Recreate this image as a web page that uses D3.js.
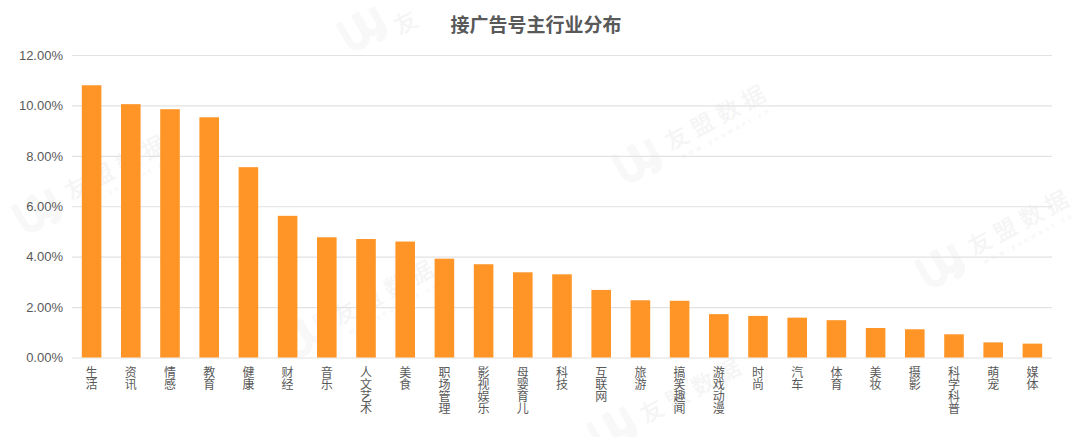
<!DOCTYPE html>
<html><head><meta charset="utf-8">
<script src="https://cdn.jsdelivr.net/npm/d3@7/dist/d3.min.js"></script>
<style>html,body{margin:0;padding:0;background:#fff}svg{display:block}</style>
</head><body><svg id="c" width="1080" height="437"></svg>
<script>
const titleText = "接广告号主行业分布";
const categories = ["生活","资讯","情感","教育","健康","财经","音乐","人文艺术","美食","职场管理","影视娱乐","母婴育儿","科技","互联网","旅游","搞笑趣闻","游戏动漫","时尚","汽车","体育","美妆","摄影","科学科普","萌宠","媒体"];
const values = [10.8,10.05,9.85,9.53,7.55,5.62,4.77,4.7,4.6,3.92,3.7,3.38,3.3,2.68,2.27,2.25,1.72,1.65,1.58,1.48,1.17,1.12,0.92,0.6,0.55];
const yTicks = [0,2,4,6,8,10,12];
const watermarkText = "友盟数据";
const watermarkSub = "www.youwant.cn";
// logo centre and wordmark centre of each faint watermark
const watermarkSpots = [
  {lx:37,ly:210,tx:117,ty:165,t:watermarkText,sub:true},
  {lx:637,ly:160,tx:717,ty:115,t:watermarkText,sub:true},
  {lx:940,ly:265,tx:1020,ty:220,t:watermarkText,sub:true},
  {lx:305,ly:335,tx:385,ty:290,t:watermarkText,sub:true},
  {lx:612,ly:428,tx:692,ty:388,t:watermarkText,sub:false},
  {lx:362,ly:28,tx:405,ty:21,t:"友",sub:false}
];

const FONT = "'Liberation Sans','Noto Sans CJK SC',sans-serif";
const CJK = "'Noto Sans CJK SC',sans-serif";
const svg = d3.select("#c");
const x = d3.scaleBand().domain(categories).range([72,1052]).paddingInner(0.5).paddingOuter(0.25);
const y = d3.scaleLinear().domain([0,12]).range([357.5,55]);

// watermark (under everything)
const wm = svg.append("g");
wm.selectAll("path").data(watermarkSpots).join("path")
  .attr("transform",d=>`translate(${d.lx},${d.ly}) rotate(-30)`)
  .attr("d","M-18,-13 V6 a9,9 0 0 0 18,0 V-13 M2,-13 V2 a8,8 0 0 0 16,0 V-13 V10 a8,8 0 0 1 -8,8")
  .attr("fill","none").attr("stroke","#f8f8f8").attr("stroke-width",7).attr("stroke-linecap","round");
wm.selectAll("text.w").data(watermarkSpots).join("text").attr("class","w")
  .attr("transform",d=>`translate(${d.tx},${d.ty}) rotate(-28)`)
  .attr("text-anchor","middle").attr("dominant-baseline","central")
  .attr("font-family",CJK).attr("font-size",23).attr("font-weight",500)
  .attr("letter-spacing",d=>d.t.length>1?6:0)
  .attr("fill","#f5f5f5").text(d=>d.t);
wm.selectAll("text.s").data(watermarkSpots.filter(d=>d.sub)).join("text").attr("class","s")
  .attr("transform",d=>`translate(${d.tx+9},${d.ty+18}) rotate(-28)`)
  .attr("text-anchor","middle").attr("dominant-baseline","central")
  .attr("font-family",FONT).attr("font-size",7).attr("letter-spacing",3.6)
  .attr("fill","#f3f3f3").text(watermarkSub);

// grid and y axis
const yAxis = d3.axisLeft(y).tickValues(yTicks).tickSize(-980).tickPadding(9).tickFormat(d=>d.toFixed(2)+"%");
const gy = svg.append("g").attr("transform","translate(72,0)").call(yAxis);
gy.select(".domain").remove();
gy.selectAll("line").attr("stroke","#e2e2e2").attr("stroke-width",1.2);
gy.selectAll("text").attr("fill","#595959").attr("font-family",FONT).attr("font-size",13);

// bars
svg.append("g").selectAll("rect").data(categories).join("rect")
  .attr("x",d=>x(d)).attr("width",x.bandwidth())
  .attr("y",(d,i)=>y(values[i])).attr("height",(d,i)=>y(0)-y(values[i]))
  .attr("fill","#ff9527");

// vertical category labels
svg.append("g").selectAll("text").data(categories).join("text")
  .attr("transform",d=>`translate(${x(d)+x.bandwidth()/2},366)`)
  .style("writing-mode","vertical-rl").style("text-orientation","upright")
  .attr("font-family",CJK).attr("font-size",12).attr("fill","#595959").text(d=>d);

// title
svg.append("text").attr("x",536).attr("y",32).attr("text-anchor","middle")
  .attr("font-family",CJK).attr("font-size",19).attr("font-weight",700).attr("fill","#595959").text(titleText);
</script></body></html>
